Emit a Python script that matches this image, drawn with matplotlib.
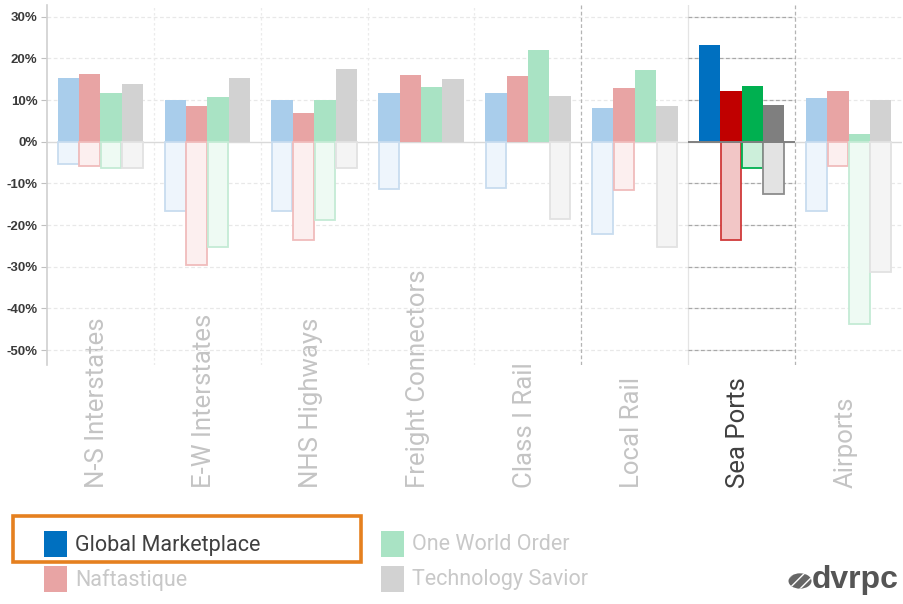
import matplotlib
matplotlib.use("Agg")
import matplotlib.pyplot as plt
from matplotlib.patches import Rectangle, Circle
from matplotlib.ticker import FuncFormatter, FixedLocator
import matplotlib.transforms as mtransforms
import numpy as np

categories = ["N-S Interstates", "E-W Interstates", "NHS Highways", "Freight Connectors",
              "Class I Rail", "Local Rail", "Sea Ports", "Airports"]
series = ["Global Marketplace", "Naftastique", "One World Order", "Technology Savior"]

# positive (upside) values, %
pos_global = [15.4, 10.1, 10.1, 11.8, 11.8, 8.0, 23.3, 10.4]
pos_nafta = [16.2, 8.6, 6.9, 15.9, 15.7, 12.8, 12.2, 12.2]
pos_oneworld = [11.8, 10.7, 10.1, 13.2, 22.1, 17.1, 13.3, 1.8]
pos_tech = [13.9, 15.4, 17.4, 15.0, 10.9, 8.6, 8.9, 10.1]
# negative (downside) values, %
neg_global = [-5.4, -16.7, -16.7, -11.3, -11.2, -22.2, 0.0, -16.6]
neg_nafta = [-5.8, -29.6, -23.7, 0.0, 0.0, -11.7, -23.6, -5.8]
neg_oneworld = [-6.4, -25.2, -18.7, 0.0, 0.0, 0.0, -6.4, -43.8]
neg_tech = [-6.4, 0.0, -6.4, 0.0, -18.6, -25.2, -12.6, -31.3]

yticks = [30, 20, 10, 0, -10, -20, -30, -40, -50]
highlight = "Sea Ports"

pos_vals = [pos_global, pos_nafta, pos_oneworld, pos_tech]
neg_vals = [neg_global, neg_nafta, neg_oneworld, neg_tech]

full_col = ["#0070C0", "#C00000", "#00B050", "#7F7F7F"]
fade_pos = ["#A9CDEB", "#E8A4A4", "#A9E3C4", "#D2D2D2"]
fade_neg_fill = ["#EEF5FC", "#FCEFEF", "#EEFAF3", "#F4F4F4"]
fade_neg_edge = ["#C8DCEF", "#F0BCBC", "#C4EBD5", "#E2E2E2"]
hi_neg_fill = ["#C9DFF2", "#F2C6C6", "#CCEFDA", "#E3E3E3"]
hi_neg_edge = ["#0070C0", "#D03A3A", "#00B050", "#8C8C8C"]

W, H = 904, 604
fig = plt.figure(figsize=(W / 100, H / 100), dpi=100)
ax = fig.add_axes([47 / W, 1 - 365 / H, 855 / W, 360 / H])

x = np.arange(len(categories))
hi = categories.index(highlight)
bw = 0.2
for j in range(4):
    xs = x + (j - 1.5) * bw
    pcols = [full_col[j] if i == hi else fade_pos[j] for i in range(len(categories))]
    ax.bar(xs, pos_vals[j], width=bw, color=pcols, linewidth=0, zorder=3)
    nf = [hi_neg_fill[j] if i == hi else fade_neg_fill[j] for i in range(len(categories))]
    ne = [hi_neg_edge[j] if i == hi else fade_neg_edge[j] for i in range(len(categories))]
    nv = np.array(neg_vals[j])
    mask = nv < 0
    ax.bar(xs[mask], nv[mask], width=bw * 0.97, color=np.array(nf)[mask],
           edgecolor=np.array(ne)[mask], linewidth=1.3, zorder=3)

ax.set_xlim(-0.5, len(categories) - 0.5)
ax.set_ylim(-53.6, 32.8)

# horizontal grid
for v in yticks:
    if v == 0:
        continue
    ax.axhline(v, color="#E8E8E8", lw=0.9, ls=(0, (3, 2)), zorder=1)
    ax.hlines(v, hi - 0.5, hi + 0.5, color="#A8A8A8", lw=0.9, ls=(0, (3, 2)), zorder=1.5)
ax.axhline(0, color="#D9D9D9", lw=1.0, zorder=2)
ax.hlines(0, hi - 0.5, hi + 0.5, color="#808080", lw=1.4, zorder=4)

# vertical separators
for b in np.arange(0.5, len(categories) - 0.5, 1.0):
    if b in (hi - 1.5, hi + 0.5):
        ax.axvline(b, color="#B4B4B4", lw=0.9, ls=(0, (3, 2)), zorder=1)
    elif b == hi - 0.5:
        ax.axvline(b, color="#E4E4E4", lw=0.9, zorder=1)
    else:
        ax.axvline(b, color="#EBEBEB", lw=0.9, ls=(0, (2, 2)), zorder=1)

for s in ["top", "right", "bottom"]:
    ax.spines[s].set_visible(False)
ax.spines["left"].set_color("#D0D0D0")
ax.spines["left"].set_linewidth(1.2)

ax.yaxis.set_major_locator(FixedLocator(yticks))
ax.yaxis.set_major_formatter(FuncFormatter(lambda v, p: f"{int(v)}%"))
ax.tick_params(axis="y", length=4, color="#C0C0C0", pad=3, labelsize=9.5,
               labelcolor="#3A3A3A")
for lab in ax.get_yticklabels():
    lab.set_fontfamily(["Liberation Sans", "DejaVu Sans"])
    lab.set_fontweight("bold")

narrow = ["Roboto", "DejaVu Sans"]
# category labels: rotated, anchored at their start (bottom) ~ y=487px
ax.set_xticks(x)
ax.set_xticklabels([])
ax.tick_params(axis="x", length=0)
trans = mtransforms.blended_transform_factory(ax.transData, ax.transAxes)
y_lab = (365 - 488) / 360
for i, c in enumerate(categories):
    ax.text(i - 0.03, y_lab, c, rotation=90, va="bottom", ha="center",
            transform=trans, fontsize=18.5, family=narrow,
            color="#404040" if i == hi else "#C4C4C4", clip_on=False, zorder=0.5)

# legend (manual, figure pixel coordinates)
def px(xp, yp):
    return xp / W, 1 - yp / H

fig.add_artist(Rectangle(px(13, 562), 348 / W, 46 / H, transform=fig.transFigure,
                         fill=False, edgecolor="#E5801F", linewidth=2.6))
leg = [(44, 531, 0, "#404040"), (44, 566, 1, "#C8C8C8"),
       (381, 531, 2, "#C8C8C8"), (381, 566, 3, "#C8C8C8")]
legcols = [full_col[0], fade_pos[1], fade_pos[2], fade_pos[3]]
for (lx, ly, j, tc) in leg:
    fig.add_artist(Rectangle(px(lx, ly + 26), 23 / W, 26 / H, transform=fig.transFigure,
                             facecolor=legcols[j], edgecolor="none"))
    fig.text(*px(lx + 31, ly + 14), series[j], fontsize=15.5, family=narrow,
             color=tc, va="center", ha="left")

# logo
fig.add_artist(Circle(px(800, 581), 11.5 / W, transform=fig.transFigure,
                      facecolor="#666666", edgecolor="white", hatch="///", lw=0))
fig.text(*px(812, 580), "dvrpc", fontsize=23, fontweight="bold",
         family=["Liberation Sans", "DejaVu Sans"], color="#555555",
         va="center", ha="left")

fig.savefig("out.png", dpi=100)
